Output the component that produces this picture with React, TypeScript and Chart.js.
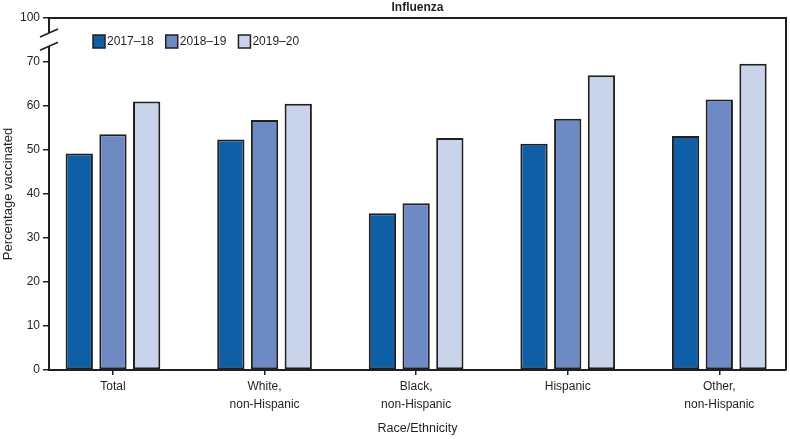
import React, { useEffect, useRef } from "react";
import { Chart, registerables } from "chart.js";

Chart.register(...registerables);

// ---- data ----
const categories: string[][] = [
  ["Total"],
  ["White,", "non-Hispanic"],
  ["Black,", "non-Hispanic"],
  ["Hispanic"],
  ["Other,", "non-Hispanic"],
];
const seriesLabels = ["2017–18", "2018–19", "2019–20"];
const values2017 = [49.2, 52.4, 35.6, 51.4, 53.2];
const values2018 = [53.6, 56.8, 37.9, 57.1, 61.5];
const values2019 = [61.0, 60.5, 52.7, 67.0, 69.6];
const seriesColors = ["#0f5fa6", "#6d8ac4", "#c9d3ea"];
const yTickValues = [0, 10, 20, 30, 40, 50, 60, 70, 80];
const yTickLabels = ["0", "10", "20", "30", "40", "50", "60", "70", "100"];
const chartTitle = "Influenza";
const xTitle = "Race/Ethnicity";
const yTitle = "Percentage vaccinated";

const INK = "#231f20";
const FONT = "'Liberation Sans', Arial, sans-serif";

const framePlugin = {
  id: "frame",
  afterDraw(chart: any) {
    const { ctx, chartArea } = chart;
    const y = chart.scales.y;
    ctx.save();
    ctx.strokeStyle = INK;
    ctx.lineWidth = 2;
    // top and right frame lines
    ctx.beginPath();
    ctx.moveTo(chartArea.left, chartArea.top);
    ctx.lineTo(chartArea.right, chartArea.top);
    ctx.lineTo(chartArea.right, chartArea.bottom);
    ctx.stroke();
    // axis break
    const yA = y.getPixelForValue(76.6);
    const yB = y.getPixelForValue(73.6);
    ctx.fillStyle = "#ffffff";
    ctx.fillRect(chartArea.left - 3, yA, 6, yB - yA);
    ctx.lineWidth = 1.6;
    ctx.beginPath();
    ctx.moveTo(chartArea.left - 9, yA + 4);
    ctx.lineTo(chartArea.left + 9, yA - 4);
    ctx.moveTo(chartArea.left - 9, yB + 4);
    ctx.lineTo(chartArea.left + 9, yB - 4);
    ctx.stroke();
    // title
    ctx.fillStyle = INK;
    ctx.font = `bold 12px ${FONT}`;
    ctx.textAlign = "center";
    ctx.textBaseline = "middle";
    ctx.fillText(chartTitle, (chartArea.left + chartArea.right) / 2, 8);
    // legend
    ctx.font = `12px ${FONT}`;
    ctx.textAlign = "left";
    let lx = chartArea.left + 44;
    const ly = chartArea.top + 23;
    chart.data.datasets.forEach((ds: any) => {
      ctx.fillStyle = ds.backgroundColor;
      ctx.fillRect(lx, ly - 6, 12, 13);
      ctx.strokeStyle = INK;
      ctx.lineWidth = 1.5;
      ctx.strokeRect(lx, ly - 6, 12, 13);
      ctx.fillStyle = INK;
      ctx.fillText(ds.label, lx + 14, ly + 1);
      lx += 14 + ctx.measureText(ds.label).width + 12;
    });
    ctx.restore();
  },
};

export default function App() {
  const ref = useRef<HTMLCanvasElement | null>(null);
  useEffect(() => {
    if (!ref.current) return;
    const mk = (vals: number[]) => vals.map((v, i) => ({ x: i, y: v }));
    const chart = new Chart(ref.current, {
      type: "bar",
      data: {
        datasets: [values2017, values2018, values2019].map((vals, i) => ({
          label: seriesLabels[i],
          data: mk(vals),
          backgroundColor: seriesColors[i],
          borderColor: INK,
          borderWidth: 2,
          borderSkipped: false,
          categoryPercentage: 0.667,
          barPercentage: 0.81,
        })),
      },
      options: {
        animation: false,
        responsive: false,
        maintainAspectRatio: false,
        layout: { padding: { top: 18, right: 4, left: 0, bottom: 0 } },
        plugins: {
          legend: { display: false },
          title: { display: false },
          tooltip: { enabled: false },
        },
        scales: {
          x: {
            type: "linear",
            offset: false,
            min: -0.422,
            max: 4.44,
            afterFit: (s: any) => {
              s.height = 69;
            },
            afterBuildTicks: (s: any) => {
              s.ticks = categories.map((_, i) => ({ value: i }));
            },
            ticks: {
              autoSkip: false,
              maxRotation: 0,
              padding: 3,
              color: INK,
              font: { family: FONT, size: 12, lineHeight: 1.5 },
              callback: (v: any) => {
                const i = Math.round(Number(v));
                return categories[i] ? categories[i] : "";
              },
            },
            grid: {
              display: true,
              offset: false,
              drawOnChartArea: false,
              drawTicks: true,
              tickLength: 5,
              color: INK,
              lineWidth: 1.5,
            },
            border: { display: true, color: INK, width: 2 },
            title: {
              display: true,
              text: xTitle,
              color: INK,
              font: { family: FONT, size: 12.5 },
              padding: { top: 0, bottom: 3 },
            },
          },
          y: {
            type: "linear",
            min: 0,
            max: 80,
            afterFit: (s: any) => {
              s.width = 49;
            },
            afterBuildTicks: (s: any) => {
              s.ticks = yTickValues.map((v) => ({ value: v }));
            },
            ticks: {
              padding: 3,
              color: INK,
              font: { family: FONT, size: 12 },
              callback: (v: any) => {
                const idx = yTickValues.indexOf(Number(v));
                return idx >= 0 ? yTickLabels[idx] : "";
              },
            },
            grid: {
              display: true,
              drawOnChartArea: false,
              drawTicks: true,
              tickLength: 6,
              color: INK,
              lineWidth: 1.5,
            },
            border: { display: true, color: INK, width: 2 },
            title: {
              display: true,
              text: yTitle,
              color: INK,
              font: { family: FONT, size: 13 },
              padding: { top: 1, bottom: 0 },
            },
          },
        },
      },
      plugins: [framePlugin],
    } as any);
    return () => chart.destroy();
  }, []);
  return (
    <div style={{ position: "fixed", left: 0, top: 0, width: 790, height: 439, background: "#fff" }}>
      <canvas ref={ref} width={790} height={439} style={{ width: 790, height: 439, display: "block" }} />
    </div>
  );
}
